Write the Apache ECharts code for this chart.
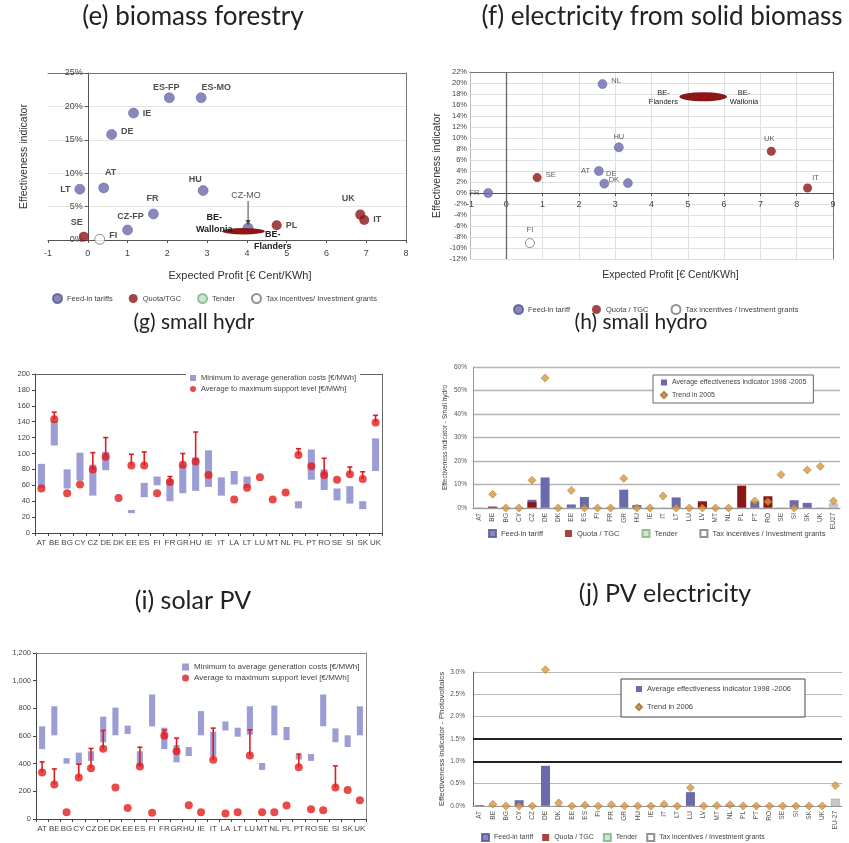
<!DOCTYPE html>
<html>
<head>
<meta charset="utf-8">
<script src="https://cdn.jsdelivr.net/npm/echarts@6/dist/echarts.min.js"></script>
<style>
  html, body { margin: 0; padding: 0; background: #fff; }
  #chart { width: 849px; height: 843px; }
</style>
</head>
<body>
<div id="chart"></div>
<script>
// ---------- (e) biomass forestry : [label, expected profit, effectiveness %] ----------
const feedE  = [['LT', -0.2, 7.6], ['AT', 0.4, 7.8], ['DE', 0.6, 15.8], ['IE', 1.15, 19.0],
                ['ES-FP', 2.05, 21.3], ['ES-MO', 2.85, 21.3], ['HU', 2.9, 7.4], ['FR', 1.65, 3.9],
                ['CZ-FP', 1.0, 1.5], ['CZ-MO', 4.03, 1.8]];
const quotaE = [['SE', -0.1, 0.5], ['PL', 4.75, 2.2], ['UK', 6.85, 3.8], ['IT', 6.95, 3.0]];
const taxE   = [['FI', 0.3, 0.1]];
const beSpanE = [3.38, 4.45, 1.3];   // Belgian regional schemes: profit from, profit to, effectiveness

// ---------- (f) electricity from solid biomass ----------
const feedF  = [['FR', -0.5, 0.0], ['NL', 2.65, 19.8], ['HU', 3.1, 8.3], ['AT', 2.55, 4.0],
                ['DE', 2.7, 1.7], ['DK', 3.35, 1.8]];
const quotaF = [['SE', 0.85, 2.8], ['UK', 7.3, 7.6], ['IT', 8.3, 0.9]];
const taxF   = [['FI', 0.65, -9.1]];
const beSpanF = [4.77, 6.08, 17.5];

// ---------- (g) small hydro: costs and support [€/MWh] ----------
const catsG    = ['AT','BE','BG','CY','CZ','DE','DK','EE','ES','FI','FR','GR','HU','IE','IT','LA','LT','LU','MT','NL','PL','PT','RO','SE','SI','SK','UK'];
const costMinG = [57, 110, 56, 66, 47, 79, null, 25, 45, 60, 40, 50, 53, 58, 47, 61, 57, null, null, null, 31, 67, 54, 41, 37, 30, 78];
const costAvgG = [87, 141, 80, 101, 86, 102, null, 29, 63, 71, 67, 86, 95, 104, 70, 78, 71, null, null, null, 40, 105, 80, 56, 59, 40, 119];
const supAvgG  = [56, 143, 50, 61, 80, 96, 44, 85, 85, 50, 64, 86, 90, 73, null, 42, 57, 70, 42, 51, 98, 84, 73, 67, 74, 68, 139];
const supMaxG  = [null, 152, null, null, 101, 120, null, 99, 102, null, 71, 100, 127, null, null, null, null, null, null, null, 106, null, 94, null, 83, 77, 148];

// ---------- (h) small hydro: effectiveness [%] ----------
const catsH  = ['AT','BE','BG','CY','CZ','DE','DK','EE','ES','FI','FR','GR','HU','IE','IT','LT','LU','LV','MT','NL','PL','PT','RO','SE','SI','SK','UK','EU27'];
const feedH  = [0, 0, 0, 0, 3.5, 13.0, 0, 1.5, 4.7, 0, 0, 7.8, 1.3, 0, 0, 4.5, 0, 3.0, 0, 0, 0, 2.8, 0, 0, 3.3, 2.2, 0, 0];
const quotaH = [0, 0.6, 0, 0, 2.5, 0, 0, 0, 0, 0, 0, 0, 0, 0, 0, 0, 0, 2.5, 0, 0, 9.5, 0, 5.0, 0, 0, 0, 0, 0];
const euH    = [0, 0, 0, 0, 0, 0, 0, 0, 0, 0, 0, 0, 0, 0, 0, 0, 0, 0, 0, 0, 0, 0, 0, 0, 0, 0, 0, 2.0];
const trendH = [null, 5.8, 0, 0, 11.8, 55.3, 0, 7.5, 0, 0, 0, 12.6, 0, 0, 5.1, 0, 0, 0, 0, 0, null, 3.0, 2.7, 14.2, 0, 16.2, 17.7, 3.0];

// ---------- (i) solar PV: costs and support [€/MWh] ----------
const catsI    = ['AT','BE','BG','CY','CZ','DE','DK','EE','ES','FI','FR','GR','HU','IE','IT','LA','LT','LU','MT','NL','PL','PT','RO','SE','SI','SK','UK'];
const costMinI = [505, 605, 400, 390, 420, 555, 605, 615, 380, 670, 505, 410, 455, 605, 455, 640, 595, 610, 355, 605, 570, 430, 420, 670, 555, 520, 605];
const costAvgI = [670, 815, 440, 480, 490, 740, 805, 675, 490, 900, 660, 535, 520, 780, 630, 705, 660, 815, 405, 820, 665, 465, 470, 900, 655, 605, 815];
const supAvgI  = [336, 249, 48, 300, 367, 507, 227, 80, 379, 46, 601, 490, 99, 48, 428, 39, 48, 459, 48, 48, 97, 374, 70, 63, 227, 210, 135];
const supMaxI  = [413, 362, null, 396, 510, 640, null, null, 519, null, 642, 584, null, null, 657, null, null, 645, null, null, null, 469, null, null, 384, null, null];

// ---------- (j) PV electricity: effectiveness [%] ----------
const catsJ  = ['AT','BE','BG','CY','CZ','DE','DK','EE','ES','FI','FR','GR','HU','IE','IT','LT','LU','LV','MT','NL','PL','PT','RO','SE','SI','SK','UK','EU-27'];
const feedJ  = [0.02, 0, 0, 0.13, 0, 0.9, 0, 0, 0, 0, 0, 0, 0, 0, 0, 0, 0.31, 0, 0, 0.02, 0, 0, 0, 0, 0, 0, 0, 0];
const euJ    = [0, 0, 0, 0, 0, 0, 0, 0, 0, 0, 0, 0, 0, 0, 0, 0, 0, 0, 0, 0, 0, 0, 0, 0, 0, 0, 0, 0.16];
const trendJ = [null, 0.04, 0, 0, 0, 3.05, 0.07, 0, 0.02, 0, 0.03, 0, 0, 0, 0.04, 0, 0.41, 0, 0.01, 0.03, 0, 0, 0, 0, 0, 0, 0, 0.46];
const boldLinesJ = [1.0, 1.5];

// ---------- styling ----------
const FONT = '"Liberation Sans", Arial, sans-serif';
const C_FEED = '#6a6aae', C_QUOTA = '#8c1616', C_TENDER = '#c2e2c2';
const C_COST = '#9d9dd6', C_SUPPORT = '#e21c1c', C_TREND = '#d6973e', C_EU = '#c8c8c8';

// plot boxes (px)
const gridE = {left: 48, top: 73, width: 358, height: 167};
const gridF = {left: 470, top: 72, width: 363, height: 187};
const rangeEx = [-1, 8], rangeFx = [-1, 9], rangeFy = [-12, 22];

const labelE = {
  'LT': {position: 'left'}, 'AT': {position: 'top', offset: [7, -2]}, 'DE': {position: 'right', offset: [0, -3]},
  'IE': {position: 'right'}, 'ES-FP': {position: 'top', offset: [-3, 4]}, 'ES-MO': {position: 'top', offset: [15, 4]},
  'HU': {position: 'top', offset: [-8, 3]}, 'FR': {position: 'top', offset: [-1, -2]}, 'CZ-FP': {position: 'top', offset: [3, 0]},
  'CZ-MO': {show: false}, 'SE': {position: 'top', offset: [-7, -1]}, 'PL': {position: 'right'},
  'UK': {position: 'top', offset: [-12, -3]}, 'IT': {position: 'right'}, 'FI': {position: 'right', offset: [0, -4]}
};
const labelF = {
  'FR': {position: 'left'}, 'NL': {position: 'right', offset: [0, -3]}, 'HU': {position: 'top', offset: [0, 2]},
  'AT': {position: 'left'}, 'DE': {position: 'top', offset: [7, 3]}, 'DK': {position: 'left', offset: [0, -3]},
  'SE': {position: 'right', offset: [0, -3]}, 'UK': {position: 'top', offset: [-2, 0]}, 'IT': {position: 'top', offset: [8, 2]},
  'FI': {position: 'top'}
};

function points(rows, labels) {
  return rows.map(r => ({name: r[0], value: [r[1], r[2]], label: labels[r[0]] || {}}));
}
function nn(arr) { return arr.map(v => (v == null ? '-' : v)); }
function ranges(lo, hi) {
  const out = [];
  lo.forEach((v, i) => { if (v != null && hi[i] != null) out.push([i, v, hi[i]]); });
  return out;
}
// distance of the zero value from the low end of an axis, in px
function zeroShift(range, lengthPx) { return lengthPx * (0 - range[0]) / (range[1] - range[0]); }

// floating bar between two values of one category
function rangeBar(widthRatio) {
  return function (params, api) {
    const top = api.coord([api.value(0), api.value(2)]);
    const bot = api.coord([api.value(0), api.value(1)]);
    const w = api.size([1, 0])[0] * widthRatio;
    return {type: 'rect', shape: {x: top[0] - w / 2, y: top[1], width: w, height: bot[1] - top[1]},
            style: {fill: C_COST}};
  };
}
// whisker from the average to the maximum support level
function whisker(params, api) {
  const a = api.coord([api.value(0), api.value(1)]);
  const b = api.coord([api.value(0), api.value(2)]);
  const st = {stroke: C_SUPPORT, lineWidth: 1.6};
  return {type: 'group', children: [
    {type: 'line', shape: {x1: a[0], y1: a[1], x2: b[0], y2: b[1]}, style: st},
    {type: 'line', shape: {x1: b[0] - 2.5, y1: b[1], x2: b[0] + 2.5, y2: b[1]}, style: st}
  ]};
}
// elongated marker covering a range of expected profits
function spanEllipse(spec) {
  return function (params, api) {
    const a = api.coord([api.value(0), api.value(2)]);
    const b = api.coord([api.value(1), api.value(2)]);
    const rx = (b[0] - a[0]) / 2, cx = (a[0] + b[0]) / 2, cy = a[1];
    const kids = [{type: 'circle', shape: {cx: 0, cy: 0, r: rx}, x: cx, y: cy, scaleY: spec.ry / rx,
                   style: {fill: C_QUOTA}}];
    spec.texts.forEach(t => kids.push({
      type: 'text', z2: 10,
      style: {text: t.text, x: (t.side === 'left' ? a[0] : b[0]) + t.dx, y: cy + t.dy,
              align: 'center', verticalAlign: 'middle', fill: '#222', font: spec.font, lineHeight: spec.lh}
    }));
    return {type: 'group', children: kids};
  };
}
// callout with a downward arrow onto a point
function callout(params, api) {
  const p = api.coord([api.value(0), api.value(1)]);
  const top = p[1] - 27, tip = p[1] - 3;
  return {type: 'group', children: [
    {type: 'text', style: {text: 'CZ-MO', x: p[0] - 2, y: top - 1, align: 'center',
                           verticalAlign: 'bottom', fill: '#555', font: '9px ' + FONT}},
    {type: 'line', shape: {x1: p[0], y1: top, x2: p[0], y2: tip}, style: {stroke: '#444', lineWidth: 1}},
    {type: 'polygon', shape: {points: [[p[0] - 2.5, tip - 5], [p[0] + 2.5, tip - 5], [p[0], tip]]}, style: {fill: '#444'}}
  ]};
}

const czmo = feedE.find(r => r[0] === 'CZ-MO');

const frameLine = c => ({show: true, onZero: false, lineStyle: {color: c, width: 1}});
const noLab = {show: false};
const noTick = {show: false};
const titleStyle = size => ({fontFamily: 'Lato, "Open Sans", sans-serif', fontWeight: 'normal', fontSize: size, color: '#222'});

const option = {
  animation: false,
  backgroundColor: '#fff',
  textStyle: {fontFamily: FONT},
  title: [
    {text: '(e) biomass forestry', left: 193, top: 4, size: 26},
    {text: '(f) electricity from solid biomass', left: 662, top: 4, size: 26},
    {text: '(g) small hydr', left: 194, top: 312, size: 21},
    {text: '(h) small hydro', left: 641, top: 312, size: 21},
    {text: '(i) solar PV', left: 193, top: 588, size: 25},
    {text: '(j) PV electricity', left: 665, top: 581, size: 25}
  ].map(t => ({text: t.text, left: t.left, top: t.top, textAlign: 'center', padding: 0, textStyle: titleStyle(t.size)})),
  grid: [
    gridE, gridF,
    {left: 35, top: 374, width: 347, height: 159},
    {left: 473, top: 367, width: 367, height: 141},
    {left: 36, top: 653, width: 330, height: 166},
    {left: 473, top: 672, width: 369, height: 134}
  ].map(g => Object.assign({}, g, {outerBoundsMode: 'none', containLabel: false})),
  legend: [
    {left: 52, top: 293, padding: 0, icon: 'circle', itemWidth: 9, itemHeight: 9, itemGap: 16,
     textStyle: {fontSize: 7.5, color: '#444'},
     data: ['Feed-in tariffs', 'Quota/TGC', 'Tender', 'Tax incentives/ Investment grants']},
    {left: 513, top: 304, padding: 0, icon: 'circle', itemWidth: 9, itemHeight: 9, itemGap: 22,
     textStyle: {fontSize: 7.5, color: '#444'},
     data: ['Feed-in tariff', 'Quota / TGC', 'Tax incentives / Investment grants']},
    {left: 186, top: 371, orient: 'vertical', backgroundColor: '#fff', padding: [3, 4], itemGap: 3,
     itemWidth: 6, itemHeight: 6, textStyle: {fontSize: 7.5, color: '#444'},
     data: [{name: 'Minimum to average generation costs [€/MWh]', icon: 'rect'},
            {name: 'Average to maximum support level [€/MWh]', icon: 'circle'}]},
    {left: 653, top: 375, orient: 'vertical', backgroundColor: '#fff', borderColor: '#666', borderWidth: 1,
     padding: [4, 7], itemGap: 5, itemWidth: 6, itemHeight: 6, textStyle: {fontSize: 7, color: '#444'},
     data: [{name: 'Average effectiveness indicator 1998 -2005', icon: 'rect'},
            {name: 'Trend in 2005', icon: 'diamond'}]},
    {left: 488, top: 529, width: 400, padding: 0, icon: 'rect', itemWidth: 7, itemHeight: 7, itemGap: 22,
     textStyle: {fontSize: 7.5, color: '#444'},
     data: ['Feed-in tariff', 'Quota / TGC', 'Tender', 'Tax incentives / Investment grants']},
    {left: 178, top: 661, orient: 'vertical', backgroundColor: '#fff', padding: [2, 4], itemGap: 3,
     itemWidth: 7, itemHeight: 7, textStyle: {fontSize: 8, color: '#444'},
     data: [{name: 'Minimum to average generation costs [€/MWh]', icon: 'rect'},
            {name: 'Average to maximum support level [€/MWh]', icon: 'circle'}]},
    {left: 621, top: 679, orient: 'vertical', backgroundColor: '#fff', borderColor: '#444', borderWidth: 1,
     padding: [6, 14, 6, 14], itemGap: 10, itemWidth: 6, itemHeight: 6, textStyle: {fontSize: 7.5, color: '#444'},
     data: [{name: 'Average effectiveness indicator 1998 -2006', icon: 'rect'},
            {name: 'Trend in 2006', icon: 'diamond'}]},
    {left: 481, top: 833, width: 400, padding: 0, icon: 'rect', itemWidth: 7, itemHeight: 7, itemGap: 9,
     textStyle: {fontSize: 7, color: '#444'},
     data: ['Feed-in tariff', 'Quota / TGC', 'Tender', 'Tax incentives / Investment grants']}
  ],
  xAxis: [
    // 0: (e)
    {gridIndex: 0, type: 'value', min: rangeEx[0], max: rangeEx[1], interval: 1,
     axisLine: {show: true, onZero: false, lineStyle: {color: '#555'}},
     axisTick: {show: true, length: 3, lineStyle: {color: '#555'}},
     axisLabel: {fontSize: 9, color: '#444', margin: 9}, splitLine: {show: false},
     name: 'Expected Profit [€ Cent/KWh]', nameLocation: 'middle', nameGap: 30,
     nameTextStyle: {fontSize: 11, color: '#333', padding: [0, 0, 0, 26]}},
    // 1: (e) top frame
    {gridIndex: 0, type: 'value', position: 'top', min: rangeEx[0], max: rangeEx[1], axisLine: frameLine('#777'),
     axisTick: noTick, axisLabel: noLab, splitLine: {show: false}},
    // 2: (f) drawn along the zero line
    {gridIndex: 1, type: 'value', min: rangeFx[0], max: rangeFx[1], interval: 1,
     offset: -zeroShift(rangeFy, gridF.height),
     axisLine: {show: true, onZero: false, lineStyle: {color: '#555'}},
     axisTick: {show: true, length: 3, lineStyle: {color: '#555'}},
     axisLabel: {fontSize: 9, color: '#444', margin: 7},
     splitLine: {show: true, lineStyle: {color: '#e0e0e0'}},
     name: 'Expected Profit [€ Cent/KWh]', nameLocation: 'middle', nameGap: 77,
     nameTextStyle: {fontSize: 10.5, color: '#333', padding: [0, 0, 0, 38]}},
    // 3: (f) top frame
    {gridIndex: 1, type: 'value', position: 'top', min: rangeFx[0], max: rangeFx[1], axisLine: frameLine('#777'),
     axisTick: noTick, axisLabel: noLab, splitLine: {show: false}},
    // 4: (g)
    {gridIndex: 2, type: 'category', data: catsG,
     axisLine: {show: true, onZero: false, lineStyle: {color: '#444'}},
     axisTick: {show: true, interval: 0, length: 3, lineStyle: {color: '#444'}},
     axisLabel: {interval: 0, fontSize: 8, color: '#444', margin: 6}},
    // 5: (g) top frame
    {gridIndex: 2, type: 'category', position: 'top', data: catsG, axisLine: frameLine('#666'),
     axisTick: noTick, axisLabel: noLab},
    // 6: (h)
    {gridIndex: 3, type: 'category', data: catsH,
     axisLine: {show: true, onZero: false, lineStyle: {color: '#999'}}, axisTick: noTick,
     axisLabel: {interval: 0, rotate: 90, fontSize: 6.5, color: '#555', margin: 5}},
    // 7: (i)
    {gridIndex: 4, type: 'category', data: catsI,
     axisLine: {show: true, onZero: false, lineStyle: {color: '#444'}},
     axisTick: {show: true, interval: 0, length: 3, lineStyle: {color: '#444'}},
     axisLabel: {interval: 0, fontSize: 8, color: '#444', margin: 6}},
    // 8: (i) top frame
    {gridIndex: 4, type: 'category', position: 'top', data: catsI, axisLine: frameLine('#888'),
     axisTick: noTick, axisLabel: noLab},
    // 9: (j)
    {gridIndex: 5, type: 'category', data: catsJ,
     axisLine: {show: true, onZero: false, lineStyle: {color: '#999'}}, axisTick: noTick,
     axisLabel: {interval: 0, rotate: 90, fontSize: 6.5, color: '#555', margin: 5}}
  ],
  yAxis: [
    // 0: (e) drawn along x = 0
    {gridIndex: 0, type: 'value', min: 0, max: 25, interval: 5,
     offset: -zeroShift(rangeEx, gridE.width),
     axisLine: {show: true, onZero: false, lineStyle: {color: '#555'}},
     axisTick: {show: true, length: 3, lineStyle: {color: '#555'}},
     axisLabel: {formatter: '{value}%', fontSize: 9, color: '#444', margin: 5},
     splitLine: {show: true, lineStyle: {color: '#e4e4e4'}},
     name: 'Effectiveness indicator', nameLocation: 'middle', nameGap: 58,
     nameTextStyle: {fontSize: 10.5, color: '#333'}},
    // 1: (e) right frame
    {gridIndex: 0, type: 'value', position: 'right', min: 0, max: 25, axisLine: frameLine('#777'),
     axisTick: noTick, axisLabel: noLab, splitLine: {show: false}},
    // 2: (f)
    {gridIndex: 1, type: 'value', min: rangeFy[0], max: rangeFy[1], interval: 2,
     axisLine: {show: true, onZero: false, lineStyle: {color: '#bbb'}},
     axisTick: noTick,
     axisLabel: {formatter: '{value}%', fontSize: 7.5, color: '#444', margin: 3},
     splitLine: {show: true, lineStyle: {color: '#e0e0e0'}},
     name: 'Effectiveness indicator', nameLocation: 'middle', nameGap: 27,
     nameTextStyle: {fontSize: 10.5, color: '#333'}},
    // 3: (f) right frame
    {gridIndex: 1, type: 'value', position: 'right', min: rangeFy[0], max: rangeFy[1], axisLine: frameLine('#777'),
     axisTick: noTick, axisLabel: noLab, splitLine: {show: false}},
    // 4: (g)
    {gridIndex: 2, type: 'value', min: 0, max: 200, interval: 20,
     axisLine: {show: true, onZero: false, lineStyle: {color: '#444'}},
     axisTick: {show: true, length: 3, lineStyle: {color: '#444'}},
     axisLabel: {fontSize: 7.5, color: '#444', margin: 5}, splitLine: {show: false}},
    // 5: (g) right frame
    {gridIndex: 2, type: 'value', position: 'right', min: 0, max: 200, axisLine: frameLine('#666'),
     axisTick: noTick, axisLabel: noLab, splitLine: {show: false}},
    // 6: (h)
    {gridIndex: 3, type: 'value', min: 0, max: 60, interval: 10,
     axisLine: {show: true, onZero: false, lineStyle: {color: '#999'}}, axisTick: noTick,
     axisLabel: {formatter: '{value}%', fontSize: 6.5, color: '#555', margin: 6},
     splitLine: {show: true, lineStyle: {color: '#b4b4b4', width: 1.3}},
     name: 'Effectiveness indicator - Small hydro', nameLocation: 'middle', nameGap: 24,
     nameTextStyle: {fontSize: 6.5, color: '#444'}},
    // 7: (i)
    {gridIndex: 4, type: 'value', min: 0, max: 1200, interval: 200,
     axisLine: {show: true, onZero: false, lineStyle: {color: '#444'}},
     axisTick: {show: true, length: 3, lineStyle: {color: '#444'}},
     axisLabel: {fontSize: 7.5, color: '#444', margin: 5, formatter: v => v.toLocaleString('en-US')},
     splitLine: {show: false}},
    // 8: (i) right frame
    {gridIndex: 4, type: 'value', position: 'right', min: 0, max: 1200, axisLine: frameLine('#888'),
     axisTick: noTick, axisLabel: noLab, splitLine: {show: false}},
    // 9: (j)
    {gridIndex: 5, type: 'value', min: 0, max: 3, interval: 0.5,
     axisLine: {show: true, onZero: false, lineStyle: {color: '#666'}}, axisTick: noTick,
     axisLabel: {formatter: v => v.toFixed(1) + '%', fontSize: 6.5, color: '#555', margin: 8},
     splitLine: {show: true, lineStyle: {color: '#b8b8b8', width: 1}},
     name: 'Effectiveness indicator - Photovoltaics', nameLocation: 'middle', nameGap: 22,
     nameTextStyle: {fontSize: 8, color: '#444'}}
  ],
  series: [
    // ----- (e) -----
    {type: 'scatter', name: 'Feed-in tariffs', xAxisIndex: 0, yAxisIndex: 0, symbolSize: 10, z: 3,
     itemStyle: {color: C_FEED, borderColor: '#55558f', borderWidth: 0.6},
     label: {show: true, formatter: '{b}', fontSize: 9, fontWeight: 'bold', color: '#222', distance: 4},
     data: points(feedE, labelE)},
    {type: 'scatter', name: 'Quota/TGC', xAxisIndex: 0, yAxisIndex: 0, symbolSize: 10, z: 3,
     itemStyle: {color: C_QUOTA},
     label: {show: true, formatter: '{b}', fontSize: 9, fontWeight: 'bold', color: '#222', distance: 4},
     data: points(quotaE, labelE)},
    {type: 'scatter', name: 'Tender', xAxisIndex: 0, yAxisIndex: 0, symbolSize: 10,
     itemStyle: {color: C_TENDER, borderColor: '#7fb07f', borderWidth: 0.8}, data: []},
    {type: 'scatter', name: 'Tax incentives/ Investment grants', xAxisIndex: 0, yAxisIndex: 0, symbolSize: 10, z: 3,
     itemStyle: {color: '#fff', borderColor: '#777', borderWidth: 1},
     label: {show: true, formatter: '{b}', fontSize: 9, fontWeight: 'bold', color: '#222', distance: 4},
     data: points(taxE, labelE)},
    {type: 'custom', name: 'BE regions (e)', xAxisIndex: 0, yAxisIndex: 0, z: 4,
     renderItem: spanEllipse({ry: 3.2, font: 'bold 9px ' + FONT, lh: 12, texts: [
       {text: 'BE-\nWallonia', side: 'left', dx: -8, dy: -8},
       {text: 'BE-\nFlanders', side: 'right', dx: 8, dy: 9}]}),
     encode: {x: [0, 1], y: 2}, data: [beSpanE]},
    {type: 'custom', name: 'CZ-MO callout', xAxisIndex: 0, yAxisIndex: 0, z: 5,
     renderItem: callout, encode: {x: 0, y: 1}, data: [[czmo[1], czmo[2]]]},
    // ----- (f) -----
    {type: 'scatter', name: 'Feed-in tariff', xAxisIndex: 2, yAxisIndex: 2, symbolSize: 9, z: 3,
     itemStyle: {color: C_FEED, borderColor: '#55558f', borderWidth: 0.6},
     label: {show: true, formatter: '{b}', fontSize: 7.5, color: '#333', distance: 4},
     markLine: {silent: true, symbol: 'none', label: {show: false},
                lineStyle: {color: '#666', width: 1.3, type: 'solid'}, data: [{xAxis: 0}]},
     data: points(feedF, labelF)},
    {type: 'scatter', name: 'Quota / TGC', xAxisIndex: 2, yAxisIndex: 2, symbolSize: 9, z: 3,
     itemStyle: {color: C_QUOTA},
     label: {show: true, formatter: '{b}', fontSize: 7.5, color: '#333', distance: 4},
     data: points(quotaF, labelF)},
    {type: 'scatter', name: 'Tax incentives / Investment grants', xAxisIndex: 2, yAxisIndex: 2, symbolSize: 9, z: 3,
     itemStyle: {color: '#fff', borderColor: '#777', borderWidth: 1},
     label: {show: true, formatter: '{b}', fontSize: 7.5, color: '#333', distance: 4},
     data: points(taxF, labelF)},
    {type: 'custom', name: 'BE regions (f)', xAxisIndex: 2, yAxisIndex: 2, z: 4,
     renderItem: spanEllipse({ry: 4.5, font: '7.5px ' + FONT, lh: 9, texts: [
       {text: 'BE-\nFlanders', side: 'left', dx: -16, dy: 1},
       {text: 'BE-\nWallonia', side: 'right', dx: 17, dy: 1}]}),
     encode: {x: [0, 1], y: 2}, data: [beSpanF]},
    // ----- (g) -----
    {type: 'custom', name: 'Minimum to average generation costs [€/MWh]', xAxisIndex: 4, yAxisIndex: 4,
     itemStyle: {color: C_COST}, renderItem: rangeBar(0.55), encode: {x: 0, y: [1, 2]},
     data: ranges(costMinG, costAvgG)},
    {type: 'custom', name: 'support range (g)', xAxisIndex: 4, yAxisIndex: 4, z: 3,
     renderItem: whisker, encode: {x: 0, y: [1, 2]}, data: ranges(supAvgG, supMaxG)},
    {type: 'scatter', name: 'Average to maximum support level [€/MWh]', xAxisIndex: 4, yAxisIndex: 4,
     symbolSize: 8, z: 4, itemStyle: {color: C_SUPPORT}, data: nn(supAvgG)},
    // ----- (h) -----
    {type: 'bar', name: 'Feed-in tariff', xAxisIndex: 6, yAxisIndex: 6, barWidth: 9, barGap: '-100%',
     itemStyle: {color: C_FEED}, data: feedH},
    {type: 'bar', name: 'Quota / TGC', xAxisIndex: 6, yAxisIndex: 6, barWidth: 9, barGap: '-100%',
     itemStyle: {color: C_QUOTA}, data: quotaH},
    {type: 'bar', name: 'EU27 average', xAxisIndex: 6, yAxisIndex: 6, barWidth: 9, barGap: '-100%',
     itemStyle: {color: C_EU, borderColor: '#aaa', borderWidth: 0.5}, data: euH},
    {type: 'bar', name: 'Average effectiveness indicator 1998 -2005', xAxisIndex: 6, yAxisIndex: 6,
     barWidth: 9, barGap: '-100%', itemStyle: {color: C_FEED}, data: []},
    {type: 'scatter', name: 'Trend in 2005', xAxisIndex: 6, yAxisIndex: 6, symbol: 'diamond',
     symbolSize: [8, 8], z: 4, itemStyle: {color: C_TREND, borderColor: '#a06a22', borderWidth: 0.6},
     data: nn(trendH)},
    // ----- (i) -----
    {type: 'custom', name: 'Minimum to average generation costs [€/MWh]', xAxisIndex: 7, yAxisIndex: 7,
     itemStyle: {color: C_COST}, renderItem: rangeBar(0.5), encode: {x: 0, y: [1, 2]},
     data: ranges(costMinI, costAvgI)},
    {type: 'custom', name: 'support range (i)', xAxisIndex: 7, yAxisIndex: 7, z: 3,
     renderItem: whisker, encode: {x: 0, y: [1, 2]}, data: ranges(supAvgI, supMaxI)},
    {type: 'scatter', name: 'Average to maximum support level [€/MWh]', xAxisIndex: 7, yAxisIndex: 7,
     symbolSize: 8, z: 4, itemStyle: {color: C_SUPPORT}, data: nn(supAvgI)},
    // ----- (j) -----
    {type: 'bar', name: 'Feed-in tariff', xAxisIndex: 9, yAxisIndex: 9, barWidth: 9, barGap: '-100%',
     itemStyle: {color: C_FEED}, data: feedJ,
     markLine: {silent: true, symbol: 'none', label: {show: false},
                lineStyle: {color: '#222', width: 2, type: 'solid'},
                data: boldLinesJ.map(v => ({yAxis: v}))}},
    {type: 'bar', name: 'EU-27 average', xAxisIndex: 9, yAxisIndex: 9, barWidth: 9, barGap: '-100%',
     itemStyle: {color: C_EU, borderColor: '#999', borderWidth: 0.5}, data: euJ},
    {type: 'bar', name: 'Average effectiveness indicator 1998 -2006', xAxisIndex: 9, yAxisIndex: 9,
     barWidth: 9, barGap: '-100%', itemStyle: {color: C_FEED}, data: []},
    {type: 'scatter', name: 'Trend in 2006', xAxisIndex: 9, yAxisIndex: 9, symbol: 'diamond',
     symbolSize: [8, 8], z: 4, clip: false, itemStyle: {color: C_TREND, borderColor: '#a06a22', borderWidth: 0.6},
     data: nn(trendJ)}
  ]
};

const chart = echarts.init(document.getElementById('chart'), null, {renderer: 'canvas'});
chart.setOption(option);
</script>
</body>
</html>
